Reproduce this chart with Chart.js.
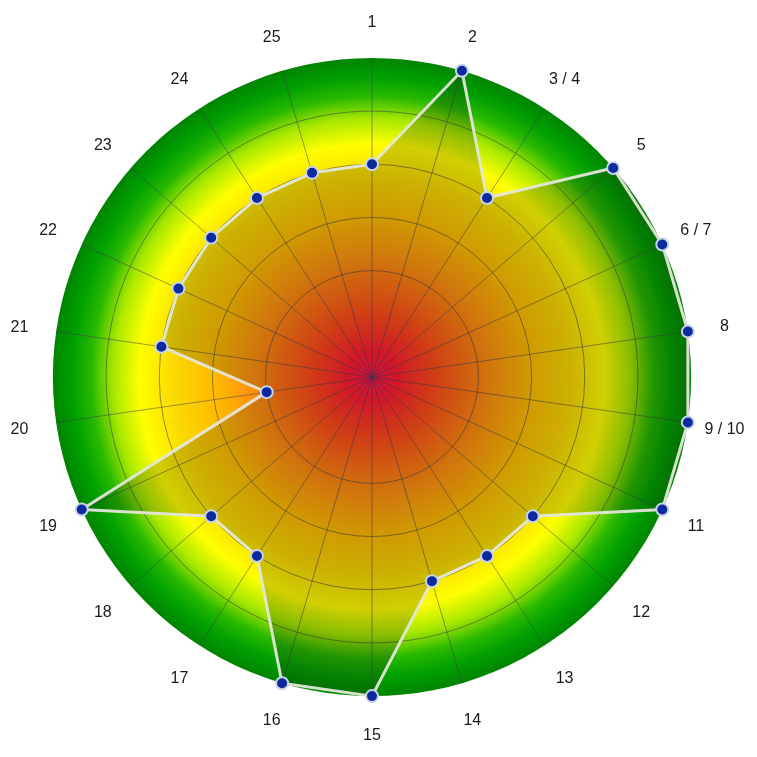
<!DOCTYPE html>
<html>
<head>
<meta charset="utf-8">
<script src="https://cdn.jsdelivr.net/npm/chart.js@4"></script>
<style>
  html, body { margin: 0; padding: 0; background: #fff; overflow: hidden; }
  #wrap { width: 757px; height: 757px; overflow: hidden; }
  #myChart { display: block; margin-left: 3px; margin-top: 6px; }
</style>
</head>
<body>
<div id="wrap"><canvas id="myChart" width="751" height="751"></canvas></div>
<script>
var labels = ['1', '2', '3 / 4', '5', '6 / 7', '8', '9 / 10', '11', '12', '13', '14',
              '15', '16', '17', '18', '19', '20', '21', '22', '23', '24', '25'];
var scores = [2, 3, 2, 3, 3, 3, 3, 3, 2, 2, 2, 3, 3, 2, 2, 3, 1, 2, 2, 2, 2, 2];
var scaleMin = 0;
var scaleMax = 3;
var scaleStep = 0.5;

// red in the middle, yellow ring, green at the rim
var bgStops = [
    [0.00, '#ff1048'],
    [0.08, '#ff1a30'],
    [0.20, '#ff4a18'],
    [0.35, '#ff8810'],
    [0.50, '#ffbc00'],
    [0.62, '#fbd800'],
    [0.73, '#ffff00'],
    [0.81, '#a8e800'],
    [0.88, '#28b800'],
    [0.94, '#00a000'],
    [1.00, '#008400']
];

const radialBg = {
    id: 'radialBg',
    beforeDraw(chart) {
        const r = chart.scales.r;
        const c = chart.ctx;
        const g = c.createRadialGradient(r.xCenter, r.yCenter, 0, r.xCenter, r.yCenter, r.drawingArea);
        bgStops.forEach(function (s) { g.addColorStop(s[0], s[1]); });
        c.save();
        c.beginPath();
        c.arc(r.xCenter, r.yCenter, r.drawingArea, 0, Math.PI * 2);
        c.fillStyle = g;
        c.fill();
        c.restore();
    }
};

// The labels are centred on a ring ~37px outside the rim. Chart.js anchors a
// corner of the label box instead, so work out padding + line height that put
// the box centre back on the ray.
var labelRing = 37;
var labelDrop = 2;
var measure = document.createElement('canvas').getContext('2d');
measure.font = '16px "Liberation Sans", Arial, sans-serif';

function labelGeom(i) {
    var a = i * 2 * Math.PI / labels.length;
    var s = Math.abs(Math.sin(a));
    var co = Math.cos(a);
    var w = measure.measureText(labels[i]).width;
    var deg = Math.round(a * 180 / Math.PI);
    if (deg === 0 || deg === 180) {
        var h = 19.2;
        return { pad: labelRing - h / 2 + (co > 0 ? -labelDrop : labelDrop), lh: h };
    }
    var lh = w * Math.abs(co) / s + (co > 0 ? -2 : 2) * labelDrop;
    return { pad: labelRing - w / (2 * s), lh: Math.max(0, lh) };
}

const ctx = document.getElementById('myChart').getContext('2d');

const myChart = new Chart(ctx, {
    type: 'radar',
    data: {
        labels: labels,
        datasets: [{
            data: scores,
            fill: true,
            backgroundColor: 'rgba(20,20,10,0.2)',
            borderColor: 'rgba(228,230,218,0.95)',
            borderWidth: 3,
            pointRadius: 6,
            pointBackgroundColor: '#0b2a9e',
            pointBorderColor: '#c9d3ea',
            pointBorderWidth: 2
        }]
    },
    options: {
        responsive: false,
        animation: false,
        events: [],
        plugins: {
            legend: { display: false },
            tooltip: { enabled: false }
        },
        scales: {
            r: {
                min: scaleMin,
                max: scaleMax,
                ticks: { display: false, stepSize: scaleStep },
                grid: {
                    circular: true,
                    color: function (c) {
                        return (c.index === 1 || c.index === 6) ? 'rgba(0,0,0,0)' : 'rgba(60,60,70,0.55)';
                    },
                    lineWidth: 1
                },
                angleLines: { color: 'rgba(60,60,90,0.5)', lineWidth: 1 },
                pointLabels: {
                    padding: function (c) { return labelGeom(c.index).pad; },
                    color: '#1a1a1a',
                    font: function (c) {
                        return {
                            family: '"Liberation Sans", Arial, sans-serif',
                            size: 16,
                            lineHeight: labelGeom(c.index).lh.toFixed(2) + 'px'
                        };
                    }
                }
            }
        }
    },
    plugins: [radialBg]
});
</script>
</body>
</html>
